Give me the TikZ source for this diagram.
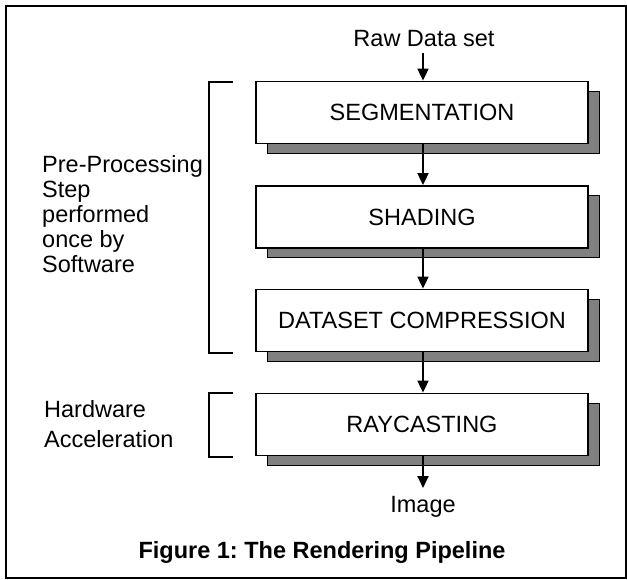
\documentclass[tikz,border=0pt]{standalone}
\usepackage{fontspec}
\setmainfont{Liberation Sans}
\usetikzlibrary{arrows.meta,shadows}
\frenchspacing
\begin{document}
\begin{tikzpicture}[x=1pt,y=-1pt,
  txt/.style={inner sep=0pt, font=\fontsize{23.5}{25}\selectfont},
  captxt/.style={inner sep=0pt, font=\fontsize{23.5}{25}\selectfont\bfseries},
  stepbox/.style={draw=black, line width=1.8pt, fill=white, minimum width=332pt, minimum height=62pt,
    inner sep=0pt, font=\fontsize{23.5}{25}\selectfont,
    drop shadow={shadow xshift=11pt, shadow yshift=-10pt, fill=black!50, draw=black, line width=1pt, opacity=1}},
  flow/.style={line width=1.8pt, -{Triangle[length=12pt,width=11pt]}},
  brk/.style={line width=1.8pt}
]
\useasboundingbox (0,0) rectangle (627,580);
\draw[line width=2pt] (6,6) rectangle (626,578);

\node[txt, anchor=base] (raw) at (424,47) {Raw Data set};
\node[stepbox] (seg) at (422,112.5) {SEGMENTATION};
\node[stepbox] (shd) at (422,217) {SHADING};
\node[stepbox] (dsc) at (422,320.5) {DATASET COMPRESSION};
\node[stepbox] (ray) at (422,424.5) {RAYCASTING};
\node[txt, anchor=base] (img) at (423,512) {Image};

\coordinate (rawend) at (423,53);
\draw[flow] (rawend) -- (423,0 |- seg.north);
\draw[flow] (423,0 |- seg.south) -- (423,0 |- shd.north);
\draw[flow] (423,0 |- shd.south) -- (423,0 |- dsc.north);
\draw[flow] (423,0 |- dsc.south) -- (423,0 |- ray.north);
\coordinate (imgtip) at (423,488);
\draw[flow] (423,0 |- ray.south) -- (imgtip);

% brackets
\coordinate (b1a) at (233,82);
\coordinate (b1b) at (209,82);
\coordinate (b1c) at (209,353);
\coordinate (b1d) at (233,353);
\draw[brk] (b1a) -- (b1b) -- (b1c) -- (b1d);
\coordinate (b2a) at (233,393);
\coordinate (b2b) at (209,393);
\coordinate (b2c) at (209,457);
\coordinate (b2d) at (233,457);
\draw[brk] (b2a) -- (b2b) -- (b2c) -- (b2d);

% left labels
\node[txt, anchor=base west] (pp1) at (42,173) {Pre-Processing};
\node[txt, anchor=base west] (pp2) at (42,198) {Step};
\node[txt, anchor=base west] (pp3) at (42,223) {performed};
\node[txt, anchor=base west] (pp4) at (42,248) {once by};
\node[txt, anchor=base west] (pp5) at (42,273) {Software};
\node[txt, anchor=base west] (hw1) at (44,417) {Hardware};
\node[txt, anchor=base west] (hw2) at (44,447) {Acceleration};

\node[captxt, anchor=base] (cap) at (322,558) {Figure 1: The Rendering Pipeline};
\end{tikzpicture}
\end{document}
